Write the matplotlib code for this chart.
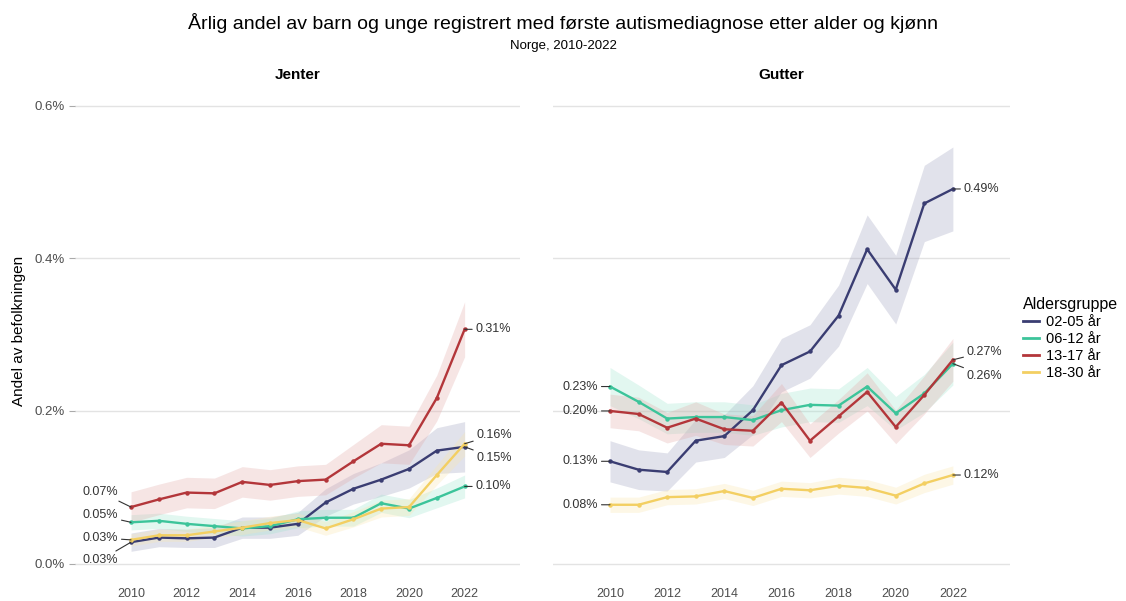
import numpy as np
import matplotlib
matplotlib.use("Agg")
import matplotlib.pyplot as plt
from matplotlib.lines import Line2D

plt.rcParams['font.family'] = ['Liberation Sans', 'DejaVu Sans']

# data (andel i prosent)
years = list(range(2010, 2023))
groups = ["02-05 år", "06-12 år", "13-17 år", "18-30 år"]
colors = ["#3a3d72", "#3cc49a", "#b3363a", "#f3cf62"]
band_colors = ["#9ea0bd", "#9fe5cf", "#e3a9a8", "#f9e6ad"]

jenter_0205 = [0.028, 0.034, 0.033, 0.034, 0.047, 0.047, 0.052, 0.080, 0.098, 0.110, 0.124, 0.148, 0.153]
jenter_0612 = [0.054, 0.056, 0.052, 0.049, 0.046, 0.049, 0.058, 0.060, 0.060, 0.079, 0.072, 0.086, 0.101]
jenter_1317 = [0.074, 0.084, 0.093, 0.092, 0.107, 0.103, 0.108, 0.110, 0.134, 0.157, 0.155, 0.217, 0.307]
jenter_1830 = [0.031, 0.037, 0.037, 0.042, 0.047, 0.053, 0.057, 0.046, 0.058, 0.072, 0.074, 0.116, 0.157]

gutter_0205 = [0.134, 0.123, 0.120, 0.161, 0.167, 0.201, 0.260, 0.278, 0.325, 0.412, 0.359, 0.472, 0.491]
gutter_0612 = [0.232, 0.212, 0.190, 0.192, 0.192, 0.188, 0.201, 0.208, 0.207, 0.232, 0.197, 0.223, 0.262]
gutter_1317 = [0.200, 0.196, 0.178, 0.190, 0.176, 0.174, 0.211, 0.161, 0.193, 0.225, 0.179, 0.221, 0.267]
gutter_1830 = [0.077, 0.077, 0.087, 0.088, 0.095, 0.086, 0.098, 0.096, 0.102, 0.099, 0.089, 0.105, 0.116]

# halve bredden av konfidensbåndene
jenter_ci_0205 = [0.012, 0.012, 0.012, 0.013, 0.014, 0.014, 0.015, 0.018, 0.020, 0.022, 0.025, 0.030, 0.033]
jenter_ci_0612 = [0.010, 0.010, 0.010, 0.010, 0.010, 0.010, 0.011, 0.011, 0.011, 0.012, 0.012, 0.013, 0.015]
jenter_ci_1317 = [0.020, 0.020, 0.020, 0.020, 0.020, 0.020, 0.020, 0.020, 0.022, 0.025, 0.025, 0.030, 0.036]
jenter_ci_1830 = [0.008, 0.008, 0.008, 0.008, 0.009, 0.009, 0.009, 0.009, 0.010, 0.011, 0.011, 0.013, 0.016]

gutter_ci_0205 = [0.027, 0.026, 0.025, 0.028, 0.028, 0.032, 0.035, 0.035, 0.040, 0.045, 0.045, 0.050, 0.055]
gutter_ci_0612 = [0.025, 0.022, 0.020, 0.020, 0.020, 0.020, 0.022, 0.022, 0.022, 0.025, 0.022, 0.025, 0.028]
gutter_ci_1317 = [0.022, 0.022, 0.020, 0.022, 0.020, 0.020, 0.025, 0.022, 0.022, 0.025, 0.022, 0.025, 0.028]
gutter_ci_1830 = [0.010, 0.010, 0.010, 0.010, 0.010, 0.010, 0.010, 0.010, 0.011, 0.011, 0.011, 0.012, 0.012]

panels = [
    ("Jenter", [jenter_0205, jenter_0612, jenter_1317, jenter_1830],
     [jenter_ci_0205, jenter_ci_0612, jenter_ci_1317, jenter_ci_1830]),
    ("Gutter", [gutter_0205, gutter_0612, gutter_1317, gutter_1830],
     [gutter_ci_0205, gutter_ci_0612, gutter_ci_1317, gutter_ci_1830]),
]

# etikett-forskyvning i piksler (start, slutt) per gruppe
offsets = {
    "Jenter": {"start": [(-13, -18), (-13, 7), (-13, 15), (-13, 2)],
               "end": [(12, -11), (11, 0), (11, 0), (12, 9)]},
    "Gutter": {"start": [(-12, 0), (-12, 0), (-12, 0), (-12, 0)],
               "end": [(11, 0), (14, -12), (14, 8), (11, 0)]},
}

fig = plt.figure(figsize=(11.26, 6.01), dpi=100)
axes = [fig.add_axes([0.067, 0.037, 0.395, 0.825]),
        fig.add_axes([0.491, 0.037, 0.406, 0.825])]

x = np.array(years)
for ax, (name, series, cis) in zip(axes, panels):
    for i, (vals, ci) in enumerate(zip(series, cis)):
        v = np.array(vals)
        c = np.array(ci)
        ax.fill_between(x, v - c, v + c, color=band_colors[i], alpha=0.3, lw=0)
    for i, vals in enumerate(series):
        ax.plot(x, vals, color=colors[i], lw=1.7, marker='o', ms=2.2)
    for i, vals in enumerate(series):
        for idx, key, ha in [(0, "start", "right"), (-1, "end", "left")]:
            ax.annotate(f"{vals[idx]:.2f}%", xy=(years[idx], vals[idx]),
                        xytext=offsets[name][key][i], textcoords='offset pixels',
                        ha=ha, va='center', fontsize=9, color='#333333',
                        arrowprops=dict(arrowstyle='-', color='#333333', lw=0.8,
                                        shrinkA=0.5, shrinkB=0))
    ax.set_xlim(2008.0, 2024.0)
    ax.set_ylim(-0.02, 0.63)
    ax.set_xticks(range(2010, 2023, 2))
    ax.set_yticks([0.0, 0.2, 0.4, 0.6])
    ax.grid(axis='y', color='#e3e3e3', lw=1)
    ax.grid(axis='x', visible=False)
    ax.set_axisbelow(True)
    for s in ax.spines.values():
        s.set_visible(False)
    ax.tick_params(axis='x', length=0, pad=7, labelsize=9, labelcolor='#4d4d4d')
    ax.set_title(name, fontsize=11, fontweight='bold', pad=3)

axes[0].set_yticklabels([f"{t:.1f}%" for t in [0.0, 0.2, 0.4, 0.6]])
axes[0].tick_params(axis='y', length=4, color='#aaaaaa', labelsize=9.5, labelcolor='#4d4d4d')
axes[0].set_ylabel("Andel av befolkningen", fontsize=11, labelpad=6)
axes[1].tick_params(axis='y', left=False, labelleft=False)

handles = [Line2D([], [], color=c, lw=2) for c in colors]
fig.legend(handles, groups, title="Aldersgruppe",
           loc='upper left', bbox_to_anchor=(0.903, 0.515), frameon=False,
           fontsize=10.5, title_fontsize=11.5, handlelength=1.1, handletextpad=0.5,
           labelspacing=0.2, alignment='left', borderaxespad=0)

fig.text(0.5, 0.962, "Årlig andel av barn og unge registrert med første autismediagnose etter alder og kjønn",
         ha='center', va='center', fontsize=14)
fig.text(0.5, 0.924, "Norge, 2010-2022", ha='center', va='center', fontsize=9.5)

fig.savefig("out.png", dpi=100)
